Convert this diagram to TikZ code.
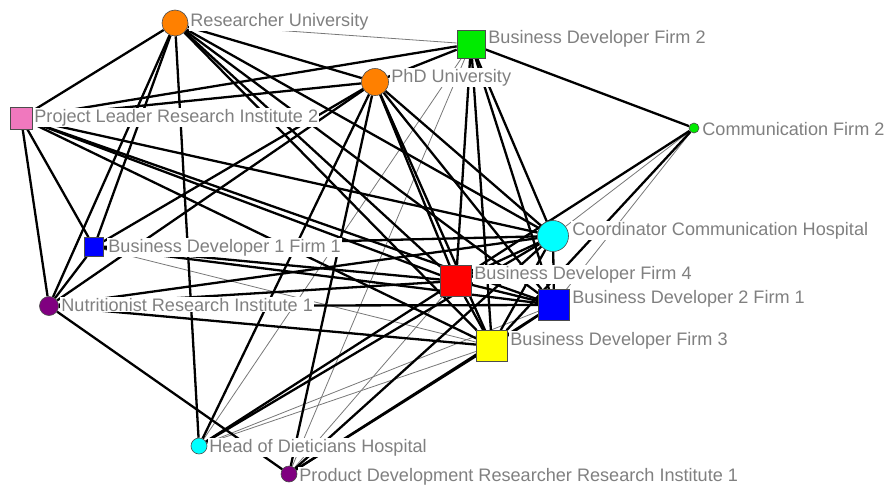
\documentclass[tikz,border=0pt]{standalone}
\usepackage{fontspec}
\setmainfont{Liberation Sans}
\definecolor{lblgray}{RGB}{128,128,128}
\definecolor{nodeorange}{RGB}{255,128,0}
\definecolor{nodegreen}{RGB}{0,235,0}
\definecolor{nodepink}{RGB}{240,120,190}
\definecolor{nodecyan}{RGB}{0,255,255}
\definecolor{nodeblue}{RGB}{0,0,255}
\definecolor{nodered}{RGB}{255,0,0}
\definecolor{nodeyellow}{RGB}{255,255,0}
\definecolor{nodepurple}{RGB}{128,0,128}
\definecolor{weakgray}{RGB}{120,120,120}
\pgfdeclarelayer{ties}
\pgfdeclarelayer{labels}
\pgfsetlayers{ties,labels,main}
\begin{document}
\begin{tikzpicture}[x=1pt,y=-1pt,
  actor/.style={draw=black!70,line width=0.6pt,inner sep=0pt},
  circ/.style={actor,circle,minimum size=#1},
  sq/.style={actor,rectangle,minimum width=#1,minimum height=#1},
  lbl/.style={anchor=base west,fill=white,inner sep=1.2pt,text=lblgray,
    font=\fontsize{18.1}{19}\selectfont},
  strong/.style={draw=black,line width=2.3pt},
  weak/.style={draw=weakgray,line width=0.8pt}]
\useasboundingbox (0,0) rectangle (885,485);

% actors
\node[circ=26pt,fill=nodeorange] (RU)  at (175,23)  {};
\node[circ=27pt,fill=nodeorange] (PU)  at (375,82)  {};
\node[sq=28pt,fill=nodegreen]    (BF2) at (471,44)  {};
\node[sq=22pt,fill=nodepink]     (PL)  at (21,118)  {};
\node[circ=10pt,fill=nodegreen]  (CF2) at (694,128) {};
\node[circ=31pt,fill=nodecyan]   (CCH) at (553,236) {};
\node[sq=19pt,fill=nodeblue]     (BD1) at (94,247)  {};
\node[sq=31pt,fill=nodered]      (BF4) at (456,281) {};
\node[sq=31pt,fill=nodeblue]     (BD2) at (554,305) {};
\node[circ=19pt,fill=nodepurple] (NRI) at (49,306)  {};
\node[sq=31pt,fill=nodeyellow]   (BF3) at (492,346) {};
\node[circ=16pt,fill=nodecyan]   (HDH) at (199,446) {};
\node[circ=16pt,fill=nodepurple] (PDR) at (289,474) {};

% ties, beneath everything else
\begin{pgfonlayer}{ties}
\foreach \a/\b in {RU/BF2, BF2/HDH, BF2/PDR, CF2/CCH, CF2/BD2, BD1/BF3,
                   HDH/BD2, HDH/BF3, PDR/BF4}
  \path[weak] (\a) -- (\b);
\foreach \a/\b in {RU/PL, RU/BD1, RU/NRI, RU/HDH, RU/PU, RU/CCH, RU/BF4, RU/BD2, RU/BF3,
                   PU/PL, PU/BF2, PU/BD1, PU/NRI, PU/HDH, PU/PDR, PU/CCH, PU/BF4, PU/BD2, PU/BF3,
                   BF2/PL, BF2/CF2, BF2/CCH, BF2/BF4, BF2/BD2, BF2/BF3,
                   PL/BD1, PL/NRI, PL/CCH, PL/BF4, PL/BD2, PL/BF3,
                   BD1/NRI, BD1/CCH, BD1/BF4, BD1/BD2,
                   NRI/PDR, NRI/CCH, NRI/BF4, NRI/BD2, NRI/BF3,
                   HDH/CCH, HDH/BF4,
                   PDR/CCH, PDR/BF3, PDR/BD2,
                   CF2/BF4, CF2/BF3,
                   CCH/BF4, CCH/BD2, CCH/BF3,
                   BF4/BD2, BF4/BF3, BD2/BF3}
  \path[strong] (\a) -- (\b);
\end{pgfonlayer}

% labels, opaque so that ties pass beneath them
\begin{pgfonlayer}{labels}
\node[lbl] (tRU)  at (189,26)  {Researcher University};
\node[lbl] (tPU)  at (390,82)  {PhD University};
\node[lbl] (tPL)  at (33,122)  {Project Leader Research Institute 2};
\node[lbl] (tBF2) at (487,43)  {Business Developer Firm 2};
\node[lbl] (tCF2) at (701,135) {Communication Firm 2};
\node[lbl] (tCCH) at (571,235) {Coordinator Communication Hospital};
\node[lbl] (tBD1) at (107,252) {Business Developer 1 Firm 1};
\node[lbl] (tNRI) at (60,311)  {Nutritionist Research Institute 1};
\node[lbl] (tHDH) at (208,452) {Head of Dieticians Hospital};
\node[lbl] (tPDR) at (298,481) {Product Development Researcher Research Institute 1};
\node[lbl] (tBF4) at (473,279) {Business Developer Firm 4};
\node[lbl] (tBD2) at (571,303) {Business Developer 2 Firm 1};
\node[lbl] (tBF3) at (509,345) {Business Developer Firm 3};
\end{pgfonlayer}
\end{tikzpicture}
\end{document}
